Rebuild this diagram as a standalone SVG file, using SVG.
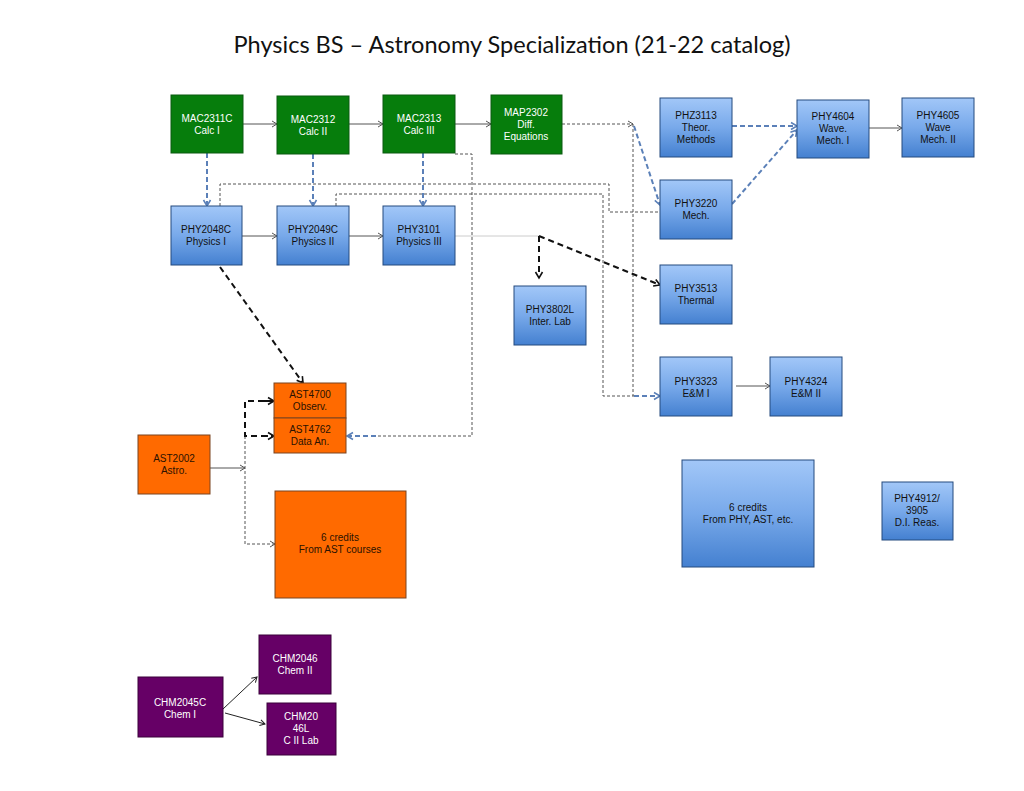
<svg xmlns="http://www.w3.org/2000/svg" width="1024" height="791" viewBox="0 0 1024 791">
<style>
  .t { font-family: "Liberation Sans", Arial, sans-serif; font-size: 10px; text-anchor: middle; }
  .green rect { fill: #067d0c; stroke: #0b5a10; stroke-width: 1; }
  .green text { fill: #ffffff; }
  .blue rect { fill: url(#blueGrad); stroke: #254a7e; stroke-width: 1; }
  .blue text { fill: #111111; }
  .orange rect { fill: #ff6a00; stroke: #7a4420; stroke-width: 1; }
  .orange text { fill: #2b1200; }
  .purple rect { fill: #660066; stroke: #3a003a; stroke-width: 1; }
  .purple text { fill: #ffffff; }
  .solid { fill: none; stroke: #555555; stroke-width: 1; }
  .light { fill: none; stroke: #cccccc; stroke-width: 1; }
  .dot { fill: none; stroke: #555555; stroke-width: 1; stroke-dasharray: 3 2; }
  .bdash { fill: none; stroke: #5b80b8; stroke-width: 2; stroke-dasharray: 5 3; }
  .kdash { fill: none; stroke: #111111; stroke-width: 2; stroke-dasharray: 6 4; }
  .chm { fill: none; stroke: #222222; stroke-width: 1; }
</style>
<defs>
  <linearGradient id="blueGrad" x1="0" y1="0" x2="0" y2="1">
    <stop offset="0" stop-color="#a2c7f8"/>
    <stop offset="0.5" stop-color="#78a9ea"/>
    <stop offset="1" stop-color="#4480d0"/>
  </linearGradient>
  <marker id="aGray" markerUnits="userSpaceOnUse" markerWidth="10" markerHeight="10" refX="7" refY="5" orient="auto">
    <path d="M2,2 L7,5 L2,8" fill="none" stroke="#555555" stroke-width="1"/>
  </marker>
  <marker id="aBlack" markerUnits="userSpaceOnUse" markerWidth="10" markerHeight="10" refX="7" refY="5" orient="auto">
    <path d="M2,2 L7,5 L2,8" fill="none" stroke="#222222" stroke-width="1"/>
  </marker>
  <marker id="aBlue" markerUnits="userSpaceOnUse" markerWidth="12" markerHeight="12" refX="9" refY="6" orient="auto">
    <path d="M3,2.5 L9,6 L3,9.5" fill="none" stroke="#5b80b8" stroke-width="1.6"/>
  </marker>
  <marker id="aK" markerUnits="userSpaceOnUse" markerWidth="12" markerHeight="12" refX="9" refY="6" orient="auto">
    <path d="M3,2.5 L9,6 L3,9.5" fill="none" stroke="#111111" stroke-width="1.6"/>
  </marker>
</defs>

<rect x="0" y="0" width="1024" height="791" fill="#ffffff"/>

<text x="512" y="53" font-family="Lato, 'Open Sans', sans-serif" font-size="23" fill="#111111" text-anchor="middle" textLength="557" lengthAdjust="spacingAndGlyphs">Physics BS – Astronomy Specialization (21-22 catalog)</text>

<g id="connectors">
  <!-- solid gray arrows -->
  <line class="solid" x1="243" y1="124" x2="277" y2="124" marker-end="url(#aGray)"/>
  <line class="solid" x1="349" y1="124" x2="383" y2="124" marker-end="url(#aGray)"/>
  <line class="solid" x1="455" y1="124" x2="491" y2="124" marker-end="url(#aGray)"/>
  <line class="solid" x1="242" y1="236" x2="277" y2="236" marker-end="url(#aGray)"/>
  <line class="solid" x1="349" y1="236" x2="383" y2="236" marker-end="url(#aGray)"/>
  <line class="solid" x1="869" y1="128" x2="902" y2="128" marker-end="url(#aGray)"/>
  <line class="solid" x1="736" y1="386" x2="770" y2="386" marker-end="url(#aGray)"/>
  <line class="solid" x1="210" y1="468" x2="245" y2="468" marker-end="url(#aGray)"/>

  <!-- dotted routes -->
  <polyline class="dot" points="220,206 220,184 609,184 609,212 660,212"/>
  <polyline class="dot" points="336,206 336,194 603,194 603,396 634,396"/>
  <polyline class="dot" points="562,124 633,124" marker-end="url(#aGray)"/>
  <polyline class="dot" points="633,124 633,396"/>
  <polyline class="dot" points="455,154 472,154 472,436 376,436"/>
  <polyline class="dot" points="245,436 245,544 275,544" marker-end="url(#aGray)"/>

  <!-- blue dashed arrows -->
  <line class="bdash" x1="207" y1="153" x2="207" y2="206" marker-end="url(#aBlue)"/>
  <line class="bdash" x1="313" y1="154" x2="313" y2="206" marker-end="url(#aBlue)"/>
  <line class="bdash" x1="423" y1="153" x2="423" y2="206" marker-end="url(#aBlue)"/>
  <line class="bdash" x1="732" y1="126" x2="797" y2="126" marker-end="url(#aBlue)"/>
  <line class="bdash" x1="732" y1="204" x2="797" y2="130" marker-end="url(#aBlue)"/>
  <line class="bdash" x1="634" y1="126" x2="660" y2="205" marker-end="url(#aBlue)"/>
  <line class="bdash" x1="376" y1="436" x2="347" y2="436" marker-end="url(#aBlue)"/>
  <line class="bdash" x1="634" y1="396" x2="660" y2="396" marker-end="url(#aBlue)"/>

  <!-- black dashed arrows -->
  <line class="kdash" x1="220" y1="267" x2="303" y2="383" marker-end="url(#aK)"/>
  <line class="light" x1="455" y1="236" x2="539" y2="236"/>
  <line class="kdash" x1="539" y1="236" x2="539" y2="278" marker-end="url(#aK)"/>
  <line class="kdash" x1="539" y1="236" x2="660" y2="285" marker-end="url(#aK)"/>
  <polyline class="kdash" points="274,401 245,401 245,436 274,436"/>
  <line class="kdash" x1="262" y1="401" x2="274" y2="401" marker-end="url(#aK)"/>
  <line class="kdash" x1="262" y1="436" x2="274" y2="436" marker-end="url(#aK)"/>

  <!-- chemistry -->
  <line class="chm" x1="223" y1="709" x2="257" y2="677" marker-end="url(#aBlack)"/>
  <line class="chm" x1="225" y1="713" x2="265" y2="724" marker-end="url(#aBlack)"/>
</g>

<g id="MAC2311C" class="green"><rect x="171" y="95" width="72" height="58"/><text class="t" x="207" y="122">MAC2311C</text><text class="t" x="207" y="134">Calc I</text></g>
<g id="MAC2312" class="green"><rect x="277" y="96" width="72" height="58"/><text class="t" x="313" y="123">MAC2312</text><text class="t" x="313" y="135">Calc II</text></g>
<g id="MAC2313" class="green"><rect x="383" y="95" width="72" height="58"/><text class="t" x="419" y="122">MAC2313</text><text class="t" x="419" y="134">Calc III</text></g>
<g id="MAP2302" class="green"><rect x="491" y="95" width="71" height="59"/><text class="t" x="526" y="116">MAP2302</text><text class="t" x="526" y="128">Diff.</text><text class="t" x="526" y="140">Equations</text></g>

<g id="PHZ3113" class="blue"><rect x="660" y="98" width="72" height="59"/><text class="t" x="696" y="119">PHZ3113</text><text class="t" x="696" y="131">Theor.</text><text class="t" x="696" y="143">Methods</text></g>
<g id="PHY3220" class="blue"><rect x="660" y="180" width="72" height="59"/><text class="t" x="696" y="207">PHY3220</text><text class="t" x="696" y="219">Mech.</text></g>
<g id="PHY4604" class="blue"><rect x="797" y="100" width="72" height="58"/><text class="t" x="833" y="120">PHY4604</text><text class="t" x="833" y="132">Wave.</text><text class="t" x="833" y="144">Mech. I</text></g>
<g id="PHY4605" class="blue"><rect x="902" y="98" width="72" height="59"/><text class="t" x="938" y="119">PHY4605</text><text class="t" x="938" y="131">Wave</text><text class="t" x="938" y="143">Mech. II</text></g>

<g id="PHY2048C" class="blue"><rect x="171" y="206" width="71" height="59"/><text class="t" x="206" y="233">PHY2048C</text><text class="t" x="206" y="245">Physics I</text></g>
<g id="PHY2049C" class="blue"><rect x="277" y="206" width="72" height="59"/><text class="t" x="313" y="233">PHY2049C</text><text class="t" x="313" y="245">Physics II</text></g>
<g id="PHY3101" class="blue"><rect x="383" y="206" width="72" height="59"/><text class="t" x="419" y="233">PHY3101</text><text class="t" x="419" y="245">Physics III</text></g>
<g id="PHY3802L" class="blue"><rect x="514" y="286" width="72" height="59"/><text class="t" x="550" y="313">PHY3802L</text><text class="t" x="550" y="325">Inter. Lab</text></g>
<g id="PHY3513" class="blue"><rect x="660" y="265" width="72" height="59"/><text class="t" x="696" y="292">PHY3513</text><text class="t" x="696" y="304">Thermal</text></g>
<g id="PHY3323" class="blue"><rect x="660" y="357" width="72" height="59"/><text class="t" x="696" y="385">PHY3323</text><text class="t" x="696" y="397">E&amp;M I</text></g>
<g id="PHY4324" class="blue"><rect x="770" y="357" width="72" height="59"/><text class="t" x="806" y="385">PHY4324</text><text class="t" x="806" y="397">E&amp;M II</text></g>
<g id="PHY_6credits" class="blue"><rect x="682" y="460" width="132" height="107"/><text class="t" x="748" y="511">6 credits</text><text class="t" x="748" y="523">From PHY, AST, etc.</text></g>
<g id="PHY4912" class="blue"><rect x="882" y="482" width="71" height="58"/><text class="t" x="917" y="502">PHY4912/</text><text class="t" x="917" y="514">3905</text><text class="t" x="917" y="526">D.I. Reas.</text></g>

<g id="AST4700" class="orange"><rect x="274" y="383" width="72" height="35"/><text class="t" x="310" y="398">AST4700</text><text class="t" x="310" y="410">Observ.</text></g>
<g id="AST4762" class="orange"><rect x="274" y="418" width="72" height="35"/><text class="t" x="310" y="433">AST4762</text><text class="t" x="310" y="445">Data An.</text></g>
<g id="AST2002" class="orange"><rect x="138" y="435" width="72" height="59"/><text class="t" x="174" y="462">AST2002</text><text class="t" x="174" y="474">Astro.</text></g>
<g id="AST_6credits" class="orange"><rect x="275" y="491" width="131" height="107"/><text class="t" x="340" y="541">6 credits</text><text class="t" x="340" y="553">From AST courses</text></g>

<g id="CHM2046" class="purple"><rect x="259" y="635" width="72" height="59"/><text class="t" x="295" y="662">CHM2046</text><text class="t" x="295" y="674">Chem II</text></g>
<g id="CHM2045C" class="purple"><rect x="138" y="677" width="85" height="60"/><text class="t" x="180" y="706">CHM2045C</text><text class="t" x="180" y="718">Chem I</text></g>
<g id="CHM2046L" class="purple"><rect x="267" y="703" width="69" height="52"/><text class="t" x="301" y="720">CHM20</text><text class="t" x="301" y="732">46L</text><text class="t" x="301" y="744">C II Lab</text></g>
</svg>
